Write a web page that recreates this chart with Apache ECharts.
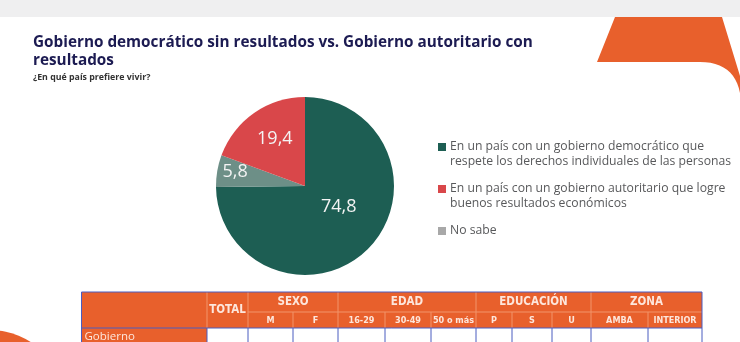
<!DOCTYPE html>
<html><head><meta charset="utf-8">
<script src="https://cdn.jsdelivr.net/npm/echarts@6/dist/echarts.min.js"></script>
<style>html,body{margin:0;padding:0;background:#fff}#c{width:740px;height:342px}</style>
</head><body><div id="c"></div>
<script>
// ---- data ----
const categories = [
  'En un país con un gobierno democrático que\nrespete los derechos individuales de las personas',
  'En un país con un gobierno autoritario que logre\nbuenos resultados económicos',
  'No sabe'
];
const values = [74.8, 19.4, 5.8];
const pieOrder = [0, 2, 1]; // clockwise from 12 o'clock
const titleText = 'Gobierno democrático sin resultados vs. Gobierno autoritario con\nresultados';
const subtitleText = '¿En qué país prefiere vivir?';
const tableGroups = ['SEXO', 'EDAD', 'EDUCACIÓN', 'ZONA'];
const tableSubheads = ['M', 'F', '16-29', '30-49', '50 o más', 'P', 'S', 'U', 'AMBA', 'INTERIOR'];
const tableTotal = 'TOTAL';
const rowLabel = 'Gobierno';

// ---- styles ----
const sliceColors = ['#1d5e53', '#d9474a', '#6d8f87'];
const legendColors = ['#1d5e53', '#d9474a', '#a8a8a8'];
const labelOffsets = [[0, -13], [-3, -8], [-23, -6]];
const ORANGE = '#e8602c', BLUE = '#4b5cc0', INNER = '#f2946a', HEADTXT = '#fde6dc';

const colX = [81.5, 207, 248, 293, 338, 385, 431, 476, 512, 552, 591, 648, 702];
const rowY = [292, 312, 328, 345];
const groupSpan = [[2, 4], [4, 7], [7, 10], [10, 12]];

const g = [];
// top grey bar
g.push({type: 'rect', shape: {x: 0, y: 0, width: 740, height: 17}, style: {fill: '#efeff0'}, z: 1});
// top-right orange shape
(function () {
  const pts = [[615, 17], [722, 17], [740, 76]];
  const p0 = [740, 93], p1 = [734, 62], p2 = [700, 62];
  for (let i = 0; i <= 12; i++) {
    const t = i / 12, a = (1 - t) * (1 - t), b = 2 * (1 - t) * t, c = t * t;
    pts.push([a * p0[0] + b * p1[0] + c * p2[0], a * p0[1] + b * p1[1] + c * p2[1]]);
  }
  pts.push([597, 62]);
  g.push({type: 'polygon', shape: {points: pts}, style: {fill: ORANGE}, z: 1});
})();
// bottom-left orange circle
g.push({type: 'circle', shape: {cx: -10, cy: 405, r: 75}, style: {fill: ORANGE}, z: 1});

// table
const rect = (x1, y1, x2, y2, fill) => g.push({type: 'rect', shape: {x: x1, y: y1, width: x2 - x1, height: y2 - y1}, style: {fill: fill}, z: 2});
const line = (x1, y1, x2, y2, c) => g.push({type: 'line', shape: {x1, y1, x2, y2}, style: {stroke: c, lineWidth: 1}, z: 3});
const txt = (x, y, s, size, weight, color, align, font) => g.push({type: 'text', x: x, y: y, style: {text: s, fontSize: size, fontWeight: weight, fill: color, align: align || 'center', verticalAlign: 'middle', fontFamily: font || "'Liberation Sans Narrow','DejaVu Sans Condensed',sans-serif"}, z: 4});

rect(colX[0], rowY[0], colX[12], rowY[2], ORANGE);
rect(colX[0], rowY[2], colX[1], rowY[3], ORANGE);
rect(colX[1], rowY[2], colX[12], rowY[3], '#ffffff');
// header inner lines
for (let i = 1; i < 12; i++) {
  const isGroupEdge = [1, 2, 4, 7, 10].indexOf(i) >= 0;
  line(colX[i], isGroupEdge ? rowY[0] : rowY[1], colX[i], rowY[2], INNER);
}
line(colX[2], rowY[1], colX[12], rowY[1], INNER);
// data row lines
for (let i = 1; i < 12; i++) line(colX[i], rowY[2], colX[i], rowY[3], BLUE);
line(colX[0], rowY[2], colX[12], rowY[2], BLUE);
// outer border
line(colX[0], rowY[0], colX[12], rowY[0], BLUE);
line(colX[0], rowY[0], colX[0], rowY[3], BLUE);
line(colX[12], rowY[0], colX[12], rowY[3], BLUE);
// header texts
txt((colX[1] + colX[2]) / 2, (rowY[0] + rowY[2]) / 2, tableTotal, 11.5, 'bold', HEADTXT);
tableGroups.forEach((s, i) => {
  const [a, b] = groupSpan[i];
  txt((colX[a] + colX[b]) / 2, (rowY[0] + rowY[1]) / 2, s, 11.5, 'bold', HEADTXT);
});
tableSubheads.forEach((s, i) => {
  txt((colX[i + 2] + colX[i + 3]) / 2, (rowY[1] + rowY[2]) / 2 + 0.5, s, 9, 'bold', HEADTXT);
});
txt(colX[0] + 3, 337, rowLabel, 11.5, 'normal', HEADTXT, 'left', "'Open Sans',sans-serif");

// title
g.push({type: 'text', x: 33, y: 34, style: {text: titleText, fontSize: 15.3, fontWeight: 'bold', fill: '#1c1b52', lineHeight: 18, fontFamily: "'Open Sans',sans-serif"}, z: 5});
g.push({type: 'text', x: 33, y: 77, style: {text: subtitleText, fontSize: 8.8, fontWeight: 'bold', fill: '#333', verticalAlign: 'middle', fontFamily: "'Open Sans',sans-serif"}, z: 5});

const pieData = pieOrder.map(i => ({
  name: categories[i],
  value: values[i],
  itemStyle: {color: sliceColors[i]},
  label: {offset: labelOffsets[i]}
}));

const rich = {
  t: {fontSize: 12.2, lineHeight: 15, color: '#58595b', padding: [0, 0, 0, 4], fontFamily: "'Open Sans',sans-serif"},
  p: {width: 8, height: 8}
};
legendColors.forEach((c, i) => { rich['s' + i] = {width: 8, height: 8, backgroundColor: c}; });

const chart = echarts.init(document.getElementById('c'), null, {renderer: 'canvas'});
chart.setOption({
  animation: false,
  backgroundColor: '#ffffff',
  graphic: g,
  legend: {
    orient: 'vertical',
    left: 428,
    top: 136,
    icon: 'none',
    itemWidth: 0,
    itemHeight: 0,
    itemGap: 15,
    selectedMode: false,
    data: categories,
    formatter: function (name) {
      const idx = categories.indexOf(name);
      return name.split('\n').map((l, k) => (k === 0 ? '{s' + idx + '|}' : '{p|}') + '{t|' + l + '}').join('\n');
    },
    textStyle: {rich: rich}
  },
  series: [{
    type: 'pie',
    center: [305, 186],
    radius: 89,
    startAngle: 90,
    clockwise: true,
    label: {
      position: 'inside',
      formatter: p => String(p.value).replace('.', ','),
      color: '#f4f4f4',
      fontSize: 18,
      fontFamily: "'Open Sans',sans-serif"
    },
    labelLine: {show: false},
    emphasis: {disabled: true},
    data: pieData
  }]
});
</script></body></html>
